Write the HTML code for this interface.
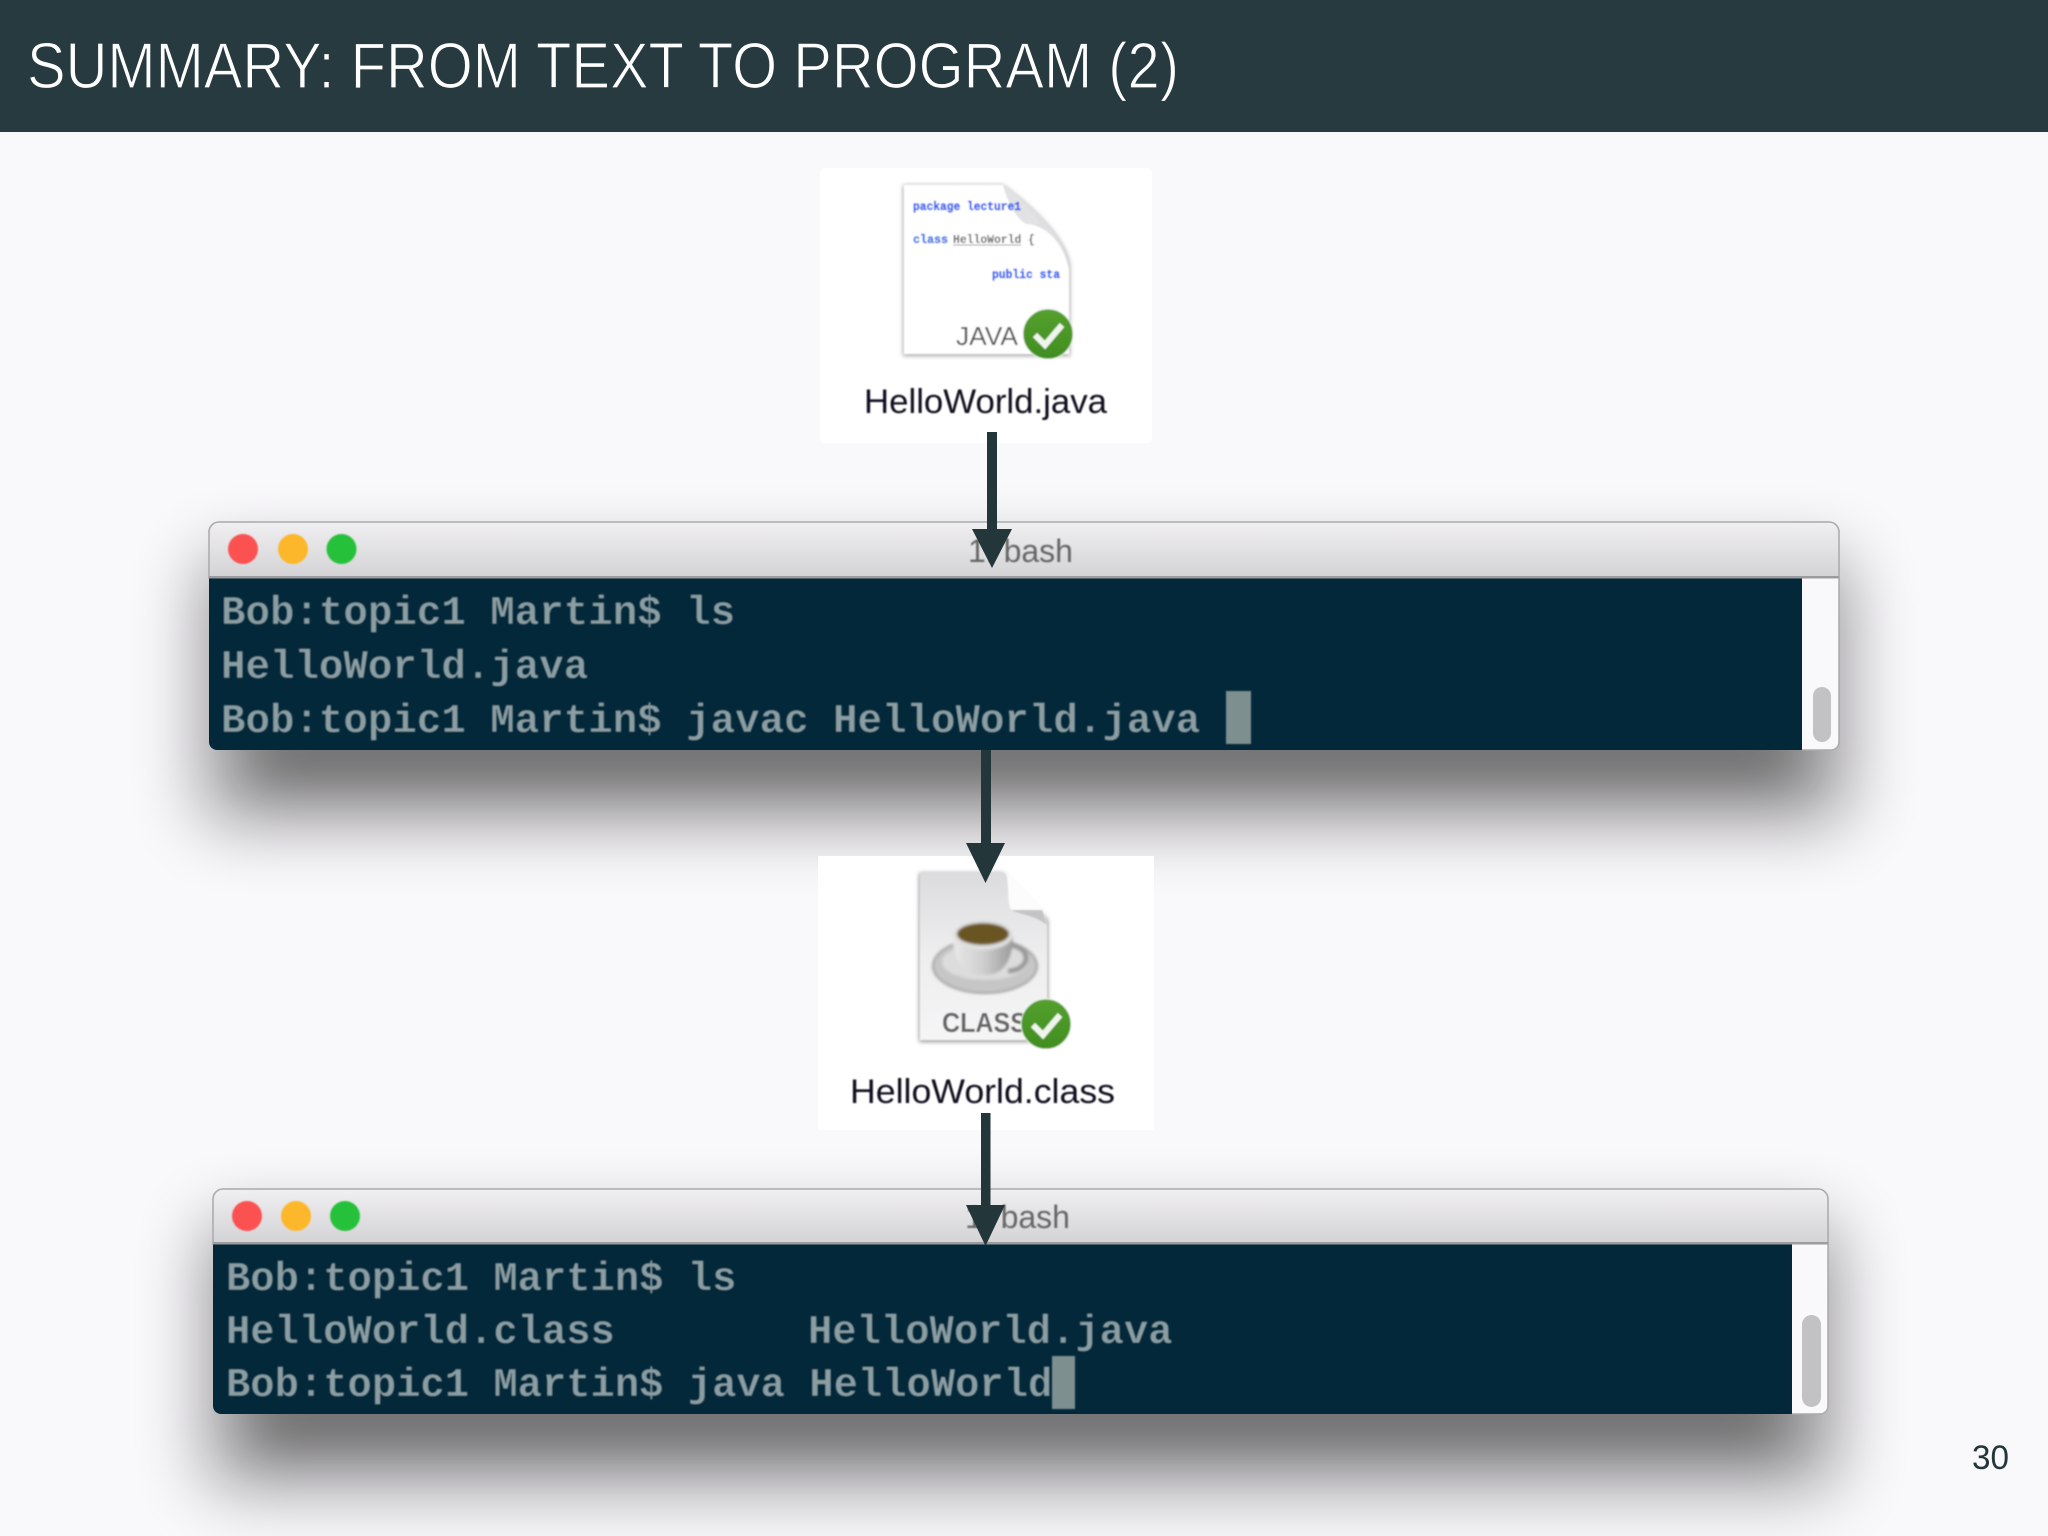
<!DOCTYPE html>
<html><head><meta charset="utf-8"><title>Summary: from text to program (2)</title>
<style>html,body{margin:0;padding:0;background:#f9f8fb}svg{display:block}
.m{font-family:"Liberation Mono",monospace;font-size:40.8px;fill:#8b9ea3;font-weight:bold;stroke:#02283a;stroke-width:.7px}
.n{font-size:40.5px}
.s{font-family:"Liberation Sans",sans-serif}
.c{font-family:"Liberation Mono",monospace;font-weight:bold;font-size:11.5px;stroke-width:.4px}
</style></head><body>
<svg xmlns="http://www.w3.org/2000/svg" width="2048" height="1536" viewBox="0 0 2048 1536">
<defs>
<filter id="sh" x="-20%" y="-100%" width="140%" height="300%"><feGaussianBlur stdDeviation="36"/></filter>
<filter id="sh2" x="-20%" y="-100%" width="140%" height="300%"><feGaussianBlur stdDeviation="24"/></filter>
<filter id="b" x="-5%" y="-20%" width="110%" height="140%"><feGaussianBlur stdDeviation="0.9"/></filter>
<filter id="b2" x="-20%" y="-20%" width="140%" height="140%"><feGaussianBlur stdDeviation="1.2"/></filter>
<filter id="ds" x="-20%" y="-20%" width="140%" height="140%"><feGaussianBlur stdDeviation="2"/></filter>
<linearGradient id="tb" x1="0" y1="0" x2="0" y2="1"><stop offset="0" stop-color="#f0eff1"/><stop offset="1" stop-color="#d3d2d5"/></linearGradient>
<linearGradient id="doc" x1="0" y1="0" x2="0" y2="1"><stop offset="0" stop-color="#dcdcde"/><stop offset=".5" stop-color="#eeeeef"/><stop offset="1" stop-color="#f5f5f6"/></linearGradient>
<linearGradient id="cup" x1="0" y1="0" x2="1" y2="0"><stop offset="0" stop-color="#e8e8e8"/><stop offset=".5" stop-color="#cfcfcf"/><stop offset="1" stop-color="#9a9a9a"/></linearGradient>
<linearGradient id="chk" x1="0" y1="0" x2="0" y2="1"><stop offset="0" stop-color="#55a02e"/><stop offset="1" stop-color="#3f8e1e"/></linearGradient>
</defs>
<rect width="2048" height="1536" fill="#f9f8fb"/>
<!-- header -->
<rect width="2048" height="132" fill="#263a40"/>
<text class="s" x="27" y="88" font-size="65" fill="#fff" stroke="#263a40" stroke-width="1.2" textLength="1152" lengthAdjust="spacingAndGlyphs">SUMMARY: FROM TEXT TO PROGRAM (2)</text>

<!-- shadows -->
<rect x="205" y="560" width="1640" height="260" fill="#000" opacity=".42" filter="url(#sh)"/>
<rect x="260" y="730" width="1530" height="50" fill="#000" opacity=".25" filter="url(#sh2)"/>
<rect x="209" y="1225" width="1625" height="260" fill="#000" opacity=".42" filter="url(#sh)"/>
<rect x="260" y="1395" width="1515" height="50" fill="#000" opacity=".25" filter="url(#sh2)"/>

<!-- white boxes -->
<rect x="820" y="168" width="332" height="275" fill="#fff" rx="4"/>
<rect x="818" y="856" width="336" height="274" fill="#fff"/>

<!-- window 1 -->
<path d="M209 578V532a10 10 0 0 1 10-10H1829a10 10 0 0 1 10 10V578Z" fill="url(#tb)" stroke="#a9a9ab" stroke-width="1.5"/>
<path d="M209 577H1839V742a8 8 0 0 1-8 8H217a8 8 0 0 1-8-8Z" fill="#f9f8fb"/>
<path d="M209 577H1802V750H217a8 8 0 0 1-8-8Z" fill="#02283a"/>
<rect x="209" y="576" width="1630" height="2.5" fill="#9c9c9e"/>
<path d="M1839 578V742a8 8 0 0 1-8 8H1802" fill="none" stroke="#a9a9ab" stroke-width="1.5"/>
<rect x="1813" y="687" width="18" height="55" rx="9" fill="#c2c1c4"/>
<g filter="url(#b)">
<circle cx="243" cy="549" r="15" fill="#fb5151"/><circle cx="293" cy="549" r="15" fill="#fdb72a"/><circle cx="341.500" cy="549" r="15" fill="#27c13a"/>
<text class="s" x="968" y="562" font-size="32" fill="#666">1. bash</text>
<text class="m" x="221" y="624">Bob:topic1 Martin$ ls</text>
<text class="m" x="221" y="678">HelloWorld.java</text>
<text class="m" x="221" y="732">Bob:topic1 Martin$ javac HelloWorld.java</text>
<rect x="1226" y="691" width="25" height="53" fill="#7e8f90"/>
</g>

<!-- window 2 -->
<path d="M213 1244V1199a10 10 0 0 1 10-10H1818a10 10 0 0 1 10 10V1244Z" fill="url(#tb)" stroke="#a9a9ab" stroke-width="1.5"/>
<path d="M213 1243H1828V1406a8 8 0 0 1-8 8H221a8 8 0 0 1-8-8Z" fill="#f9f8fb"/>
<path d="M213 1243H1792V1414H221a8 8 0 0 1-8-8Z" fill="#02283a"/>
<rect x="213" y="1242" width="1615" height="2.500" fill="#9c9c9e"/>
<path d="M1828 1244V1406a8 8 0 0 1-8 8H1792" fill="none" stroke="#a9a9ab" stroke-width="1.5"/>
<rect x="1802" y="1315" width="19" height="92" rx="9.500" fill="#c2c1c4"/>
<g filter="url(#b)">
<circle cx="247" cy="1216" r="15" fill="#fb5151"/><circle cx="296" cy="1216" r="15" fill="#fdb72a"/><circle cx="345" cy="1216" r="15" fill="#27c13a"/>
<text class="s" x="965" y="1228" font-size="32" fill="#666">1. bash</text>
<text class="m n" x="226" y="1290">Bob:topic1 Martin$ ls</text>
<text class="m n" x="226" y="1343">HelloWorld.class</text>
<text class="m n" x="808" y="1343">HelloWorld.java</text>
<text class="m n" x="226" y="1396">Bob:topic1 Martin$ java HelloWorld</text>
<rect x="1052" y="1356" width="23" height="53" fill="#7e8f90"/>
</g>

<!-- java doc icon -->
<g filter="url(#b)">
<path d="M903 187a2 2 0 0 1 2-2H1003C1030 205 1070 240 1070 270V356H905a2 2 0 0 1-2-2Z" fill="#a8a8a8" filter="url(#ds)"/>
<path d="M904 187a2 2 0 0 1 2-2H1003C1030 205 1069 240 1069 270V354H904Z" fill="#fff"/>
<path d="M1003 185C1010 205 1020 218 1028 224C1048 226 1064 245 1069 270C1069 240 1030 205 1003 185Z" fill="#dfdfe1"/>
<path d="M1003 185C1008 205 1018 220 1026 224H1040C1030 208 1015 195 1003 185Z" fill="#e2e2e4"/>
<text class="c" x="913" y="210" fill="#2f5ff0" stroke="#2f5ff0" textLength="108" lengthAdjust="spacingAndGlyphs">package lecture1</text>
<text class="c" x="913" y="243" fill="#3b78e8" stroke="#3b78e8" textLength="35" lengthAdjust="spacingAndGlyphs">class</text>
<text class="c" x="953" y="243" fill="#666" textLength="82" lengthAdjust="spacingAndGlyphs">HelloWorld {</text>
<line x1="953" y1="245" x2="1021" y2="245" stroke="#999" stroke-width="1"/>
<text class="c" x="992" y="278" fill="#2f5ff0" stroke="#2f5ff0" textLength="68" lengthAdjust="spacingAndGlyphs">public sta</text>
<text class="s" x="956" y="345" font-size="26" fill="#555" textLength="62" lengthAdjust="spacingAndGlyphs">JAVA</text>
<circle cx="1048" cy="334" r="25" fill="url(#chk)" stroke="#e8f0e4" stroke-width="1"/>
<path d="M1035 335L1045 345L1062 325" fill="none" stroke="#f0f5ec" stroke-width="6"/>
<text class="s" x="864" y="413" font-size="34" fill="#10101c" textLength="243" lengthAdjust="spacingAndGlyphs">HelloWorld.java</text>
</g>

<!-- class doc icon -->
<g filter="url(#b)">
<path d="M919 875a2 2 0 0 1 2-2H1003L1048 920V1042H921a2 2 0 0 1-2-2Z" fill="#999" filter="url(#ds)"/>
<path d="M920 875a2 2 0 0 1 2-2H1003C1020 885 1047 910 1047 925V1040H920Z" fill="url(#doc)"/>
<path d="M1006 873C1020 885 1040 905 1042 910H1012C1006 905 1010 885 1006 873Z" fill="#fcfcfc"/>
<path d="M1012 910H1042L1047 925C1035 915 1020 915 1012 910Z" fill="#c4c4c6"/>
<g filter="url(#b2)">
<ellipse cx="985" cy="966" rx="52" ry="27" fill="#c6c6c6" stroke="#a0a0a0" stroke-width="2"/>
<ellipse cx="985" cy="962" rx="43" ry="18" fill="#dcdcdc"/>
<path d="M1008 945a18 13 0 1 1 0 26" fill="none" stroke="#9a9a9a" stroke-width="5"/>
<path d="M953 935C953 962 962 975 985 975C1004 975 1013 960 1013 935Z" fill="url(#cup)"/>
<ellipse cx="983" cy="935" rx="30" ry="15" fill="#e0e0e0"/>
<ellipse cx="983" cy="934" rx="26" ry="11" fill="#6a5420"/>
</g>
<text class="s" x="942" y="1032" font-size="28" font-weight="bold" fill="#666" textLength="85" lengthAdjust="spacingAndGlyphs">CLASS</text>
<circle cx="1046" cy="1024" r="25" fill="url(#chk)" stroke="#e8f0e4" stroke-width="1"/>
<path d="M1033 1025L1043 1035L1060 1015" fill="none" stroke="#f0f5ec" stroke-width="6"/>
<text class="s" x="850" y="1103" font-size="34" fill="#10101c" textLength="265" lengthAdjust="spacingAndGlyphs">HelloWorld.class</text>
</g>

<!-- arrows -->
<g fill="#23373b">
<rect x="987" y="432" width="10" height="100"/><polygon points="972,529 1012,529 992,568"/>
<rect x="981" y="750" width="10" height="96"/><polygon points="966,843 1005,843 985.500,883"/>
<rect x="981" y="1113" width="9.500" height="95"/><polygon points="966,1205 1005,1205 985.500,1246"/>
</g>

<text class="s" x="1972" y="1469" font-size="34" fill="#23373b" textLength="37" lengthAdjust="spacingAndGlyphs">30</text>
</svg>
</body></html>
